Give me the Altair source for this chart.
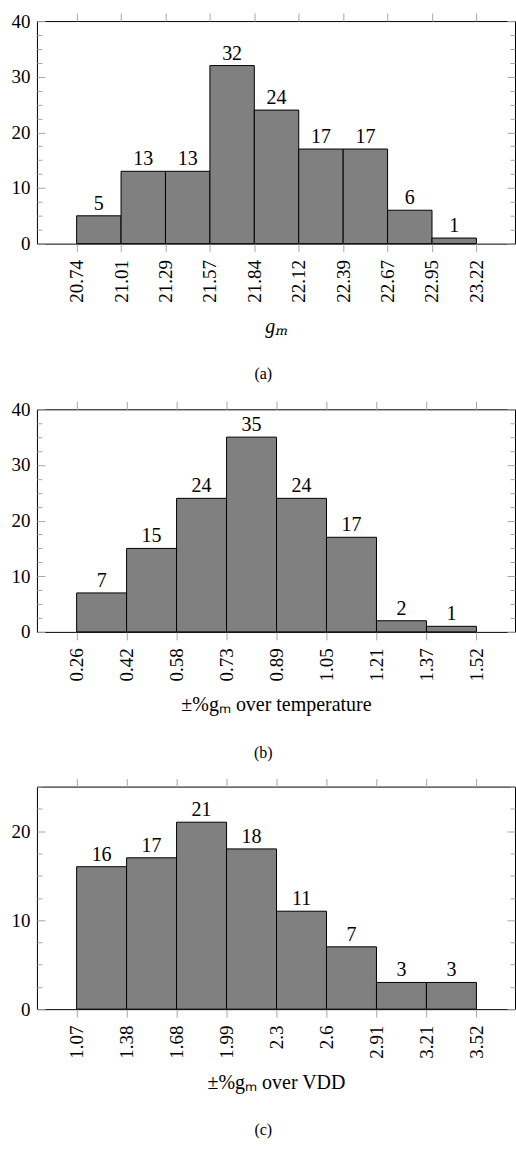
import altair as alt
import pandas as pd

# ---- data ----
edges_a = ["20.74", "21.01", "21.29", "21.57", "21.84", "22.12", "22.39", "22.67", "22.95", "23.22"]
counts_a = [5, 13, 13, 32, 24, 17, 17, 6, 1]

edges_b = ["0.26", "0.42", "0.58", "0.73", "0.89", "1.05", "1.21", "1.37", "1.52"]
counts_b = [7, 15, 24, 35, 24, 17, 2, 1]

edges_c = ["1.07", "1.38", "1.68", "1.99", "2.3", "2.6", "2.91", "3.21", "3.52"]
counts_c = [16, 17, 21, 18, 11, 7, 3, 3]

ymax = [40, 40, 25]
xtitles = ["gₘ", "±%gₘ over temperature", "±%gₘ over VDD"]
captions = ["(a)", "(b)", "(c)"]

FONT = "serif"
TICK = "#a6a6a6"
W, H = 479, 223


def panel(edges, counts, ym, xtitle, caption, italic):
    n = len(counts)
    df = pd.DataFrame({
        "i": list(range(n)),
        "i2": [k + 1 for k in range(n)],
        "mid": [k + 0.5 for k in range(n)],
        "count": counts,
    })
    xs = alt.Scale(domain=[-0.0993 * n, 1.0965 * n], nice=False, zero=False)
    ys = alt.Scale(domain=[0, ym], nice=False, zero=True)
    label_expr = "[" + ",".join(f"'{e}'" for e in edges) + "][round(datum.value)]"
    major = list(range(0, ym + 1, 10))
    minor = [v / 2 for v in range(5, 2 * ym + 1, 5) if (v / 2) % 10 != 0]
    edge_vals = list(range(n + 1))

    bottom_axis = alt.Axis(
        orient="bottom", values=edge_vals, labelExpr=label_expr,
        labelAngle=270, labelAlign="right", labelBaseline="middle",
        labelFlush=False, labelOverlap=False,
        tickSize=8, tickColor=TICK, tickWidth=1, domain=False, grid=False,
        labelFont=FONT, labelFontSize=19, labelColor="black", labelPadding=8,
        title=xtitle, titleFont=FONT, titleFontSize=20, titleFontWeight="normal",
        titleFontStyle="italic" if italic else "normal", titleColor="black",
        titlePadding=14,
    )
    top_axis = alt.Axis(
        orient="top", values=edge_vals, labels=False, tickSize=8, tickColor=TICK,
        tickWidth=1, domain=False, grid=False, title=None,
    )
    left_major = alt.Axis(
        orient="left", values=major, tickSize=8, offset=-8, tickColor=TICK,
        tickWidth=1, domain=False, grid=False, labelFont=FONT, labelFontSize=19,
        labelColor="black", labelPadding=7, title=None,
    )
    right_major = alt.Axis(
        orient="right", values=major, tickSize=8, offset=-8, tickColor=TICK,
        tickWidth=1, domain=False, grid=False, labels=False, title=None,
    )
    left_minor = alt.Axis(
        orient="left", values=minor, tickSize=5, offset=-5, tickColor=TICK,
        tickWidth=1, domain=False, grid=False, labels=False, title=None,
    )
    right_minor = alt.Axis(
        orient="right", values=minor, tickSize=5, offset=-5, tickColor=TICK,
        tickWidth=1, domain=False, grid=False, labels=False, title=None,
    )

    base = alt.Chart(df)
    bars = base.mark_bar(color="#808080", stroke="black", strokeWidth=1).encode(
        x=alt.X("i:Q", scale=xs, axis=bottom_axis),
        x2="i2:Q",
        y=alt.Y("count:Q", scale=ys, axis=left_major, stack=None),
        y2=alt.datum(0),
    )
    labels = base.mark_text(
        baseline="alphabetic", dy=-6, font=FONT, fontSize=20, color="black"
    ).encode(
        x=alt.X("mid:Q", scale=xs, axis=top_axis),
        y=alt.Y("count:Q", scale=ys, axis=right_major),
        text="count:Q",
    )
    ghost1 = base.mark_point(opacity=0).encode(
        x=alt.X("mid:Q", scale=xs, axis=None),
        y=alt.Y("count:Q", scale=ys, axis=left_minor),
    )
    ghost2 = base.mark_point(opacity=0).encode(
        x=alt.X("mid:Q", scale=xs, axis=None),
        y=alt.Y("count:Q", scale=ys, axis=right_minor),
    )
    return alt.layer(bars, labels, ghost1, ghost2).resolve_axis(
        x="independent", y="independent"
    ).properties(
        width=W, height=H,
        title=alt.TitleParams(
            caption, orient="bottom", frame="bounds", anchor="middle",
            font=FONT, fontSize=16, fontWeight="normal", color="black", offset=30,
        ),
    )


pa = panel(edges_a, counts_a, ymax[0], xtitles[0], captions[0], True)
pb = panel(edges_b, counts_b, ymax[1], xtitles[1], captions[1], False)
pc = panel(edges_c, counts_c, ymax[2], xtitles[2], captions[2], False)

chart = alt.vconcat(pa, pb, pc, spacing=16).properties(
    padding={"left": 10, "top": 10, "right": 0, "bottom": 0},
    background="white",
).configure_view(stroke="black", strokeWidth=1)

chart.save("out.html", embed_options={"renderer": "svg", "actions": False})
